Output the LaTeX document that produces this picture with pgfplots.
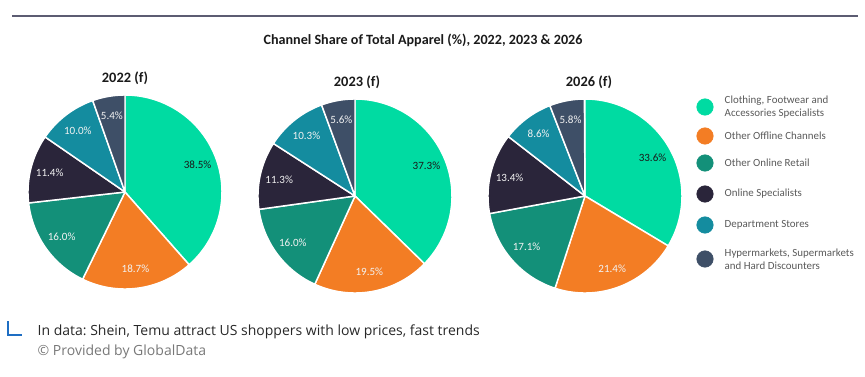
\documentclass[border=0pt]{standalone}
\usepackage{pgfplots}
\pgfplotsset{compat=1.18}
\usepackage{fontspec}
\setmainfont{Carlito}
\newfontfamily\uifont{Open Sans}
\frenchspacing
\definecolor{cA}{HTML}{00DBA2}
\definecolor{cB}{HTML}{F37D24}
\definecolor{cC}{HTML}{139079}
\definecolor{cD}{HTML}{2A253A}
\definecolor{cE}{HTML}{148C9F}
\definecolor{cF}{HTML}{3E4F67}
\definecolor{legtxt}{HTML}{595959}
\definecolor{topline}{HTML}{5C5C72}
\definecolor{darklab}{HTML}{1A1A1A}
\definecolor{lightlab}{HTML}{F2F2F2}
\newcommand\labfont{\fontsize{8.3}{10}\selectfont}
\newcommand\legfont{\fontsize{8.2}{9.75}\selectfont}
\newcommand\pieslice[5]{%
  \pgfmathsetmacro\da{90-3.6*(\cum+#3)}%
  \pgfmathsetmacro\db{90-3.6*\cum}%
  \pgfmathsetmacro\dm{90-3.6*(\cum+#3/2)}%
  \addplot[fill=#4, draw=white, line width=1.1pt, line join=round, domain=\da:\db, samples=60, variable=\t] ({#1+97*cos(\t)},{#2+97*sin(\t)}) -- (axis cs:#1,#2) -- cycle;
  \edef\tmp{\noexpand\path (axis cs:#1,#2) ++(\dm:58.2pt) node[font=\noexpand\labfont, text=#5] {#3\noexpand\%};}\tmp
  \pgfmathsetmacro\cum{\cum+#3}%
}
\begin{document}
\begin{tikzpicture}
\begin{axis}[scale only axis, width=648.75pt, height=282pt,
  xmin=0, xmax=865, ymin=0, ymax=376, hide axis, clip=false]
\path (axis cs:0,0) rectangle (axis cs:865,376);
% top rule
\draw[topline, line width=1.1pt] (axis cs:12,360) -- (axis cs:858,360);
% title
\node[font=\fontsize{10.6}{12}\selectfont\bfseries, text=darklab] at (axis cs:423,336) {Channel Share of Total Apparel (\%), 2022, 2023 \& 2026};
% pie titles
\node[font=\fontsize{10.8}{12}\selectfont\bfseries, text=darklab] at (axis cs:125,298) {2022 (f)};
\node[font=\fontsize{10.8}{12}\selectfont\bfseries, text=darklab] at (axis cs:357,294) {2023 (f)};
\node[font=\fontsize{10.8}{12}\selectfont\bfseries, text=darklab] at (axis cs:589,294) {2026 (f)};
% 2022
\def\cum{0}
\pieslice{125}{184}{38.5}{cA}{darklab}
\pieslice{125}{184}{18.7}{cB}{lightlab}
\pieslice{125}{184}{16.0}{cC}{lightlab}
\pieslice{125}{184}{11.4}{cD}{lightlab}
\pieslice{125}{184}{10.0}{cE}{lightlab}
\pieslice{125}{184}{5.4}{cF}{lightlab}
% 2023
\def\cum{0}
\pieslice{355}{180}{37.3}{cA}{darklab}
\pieslice{355}{180}{19.5}{cB}{lightlab}
\pieslice{355}{180}{16.0}{cC}{lightlab}
\pieslice{355}{180}{11.3}{cD}{lightlab}
\pieslice{355}{180}{10.3}{cE}{lightlab}
\pieslice{355}{180}{5.6}{cF}{lightlab}
% 2026
\def\cum{0}
\pieslice{585}{180}{33.6}{cA}{darklab}
\pieslice{585}{180}{21.4}{cB}{lightlab}
\pieslice{585}{180}{17.1}{cC}{lightlab}
\pieslice{585}{180}{13.4}{cD}{lightlab}
\pieslice{585}{180}{8.6}{cE}{lightlab}
\pieslice{585}{180}{5.8}{cF}{lightlab}
% legend
\addplot[only marks, mark=*, mark size=6.2pt, color=cA] coordinates {(705,269)};
\addplot[only marks, mark=*, mark size=6.2pt, color=cB] coordinates {(705,240)};
\addplot[only marks, mark=*, mark size=6.2pt, color=cC] coordinates {(705,213)};
\addplot[only marks, mark=*, mark size=6.2pt, color=cD] coordinates {(705,182)};
\addplot[only marks, mark=*, mark size=6.2pt, color=cE] coordinates {(705,151)};
\addplot[only marks, mark=*, mark size=6.2pt, color=cF] coordinates {(705,117)};
\node[anchor=west, align=left, font=\legfont, text=legtxt] at (axis cs:720,269) {Clothing, Footwear and\\Accessories Specialists};
\node[anchor=west, font=\legfont, text=legtxt] at (axis cs:720,240) {Other Offline Channels};
\node[anchor=west, font=\legfont, text=legtxt] at (axis cs:720,213) {Other Online Retail};
\node[anchor=west, font=\legfont, text=legtxt] at (axis cs:720,182) {Online Specialists};
\node[anchor=west, font=\legfont, text=legtxt] at (axis cs:720,151) {Department Stores};
\node[anchor=west, align=left, font=\legfont, text=legtxt] at (axis cs:720,117) {Hypermarkets, Supermarkets\\and Hard Discounters};
% footer
\draw[color={rgb,255:red,30;green,110;blue,195}, line width=0.8pt] (axis cs:8,55) -- (axis cs:8,41) -- (axis cs:22,41);
\node[anchor=west, font=\uifont\fontsize{10.5}{12}\selectfont, text={rgb,255:red,40;green,40;blue,40}] at (axis cs:33,44) {In data: Shein, Temu attract US shoppers with low prices, fast trends};
\node[anchor=west, font=\uifont\fontsize{10.5}{12}\selectfont, text={rgb,255:red,120;green,120;blue,120}] at (axis cs:33,24) {© Provided by GlobalData};
\end{axis}
\end{tikzpicture}
\end{document}
